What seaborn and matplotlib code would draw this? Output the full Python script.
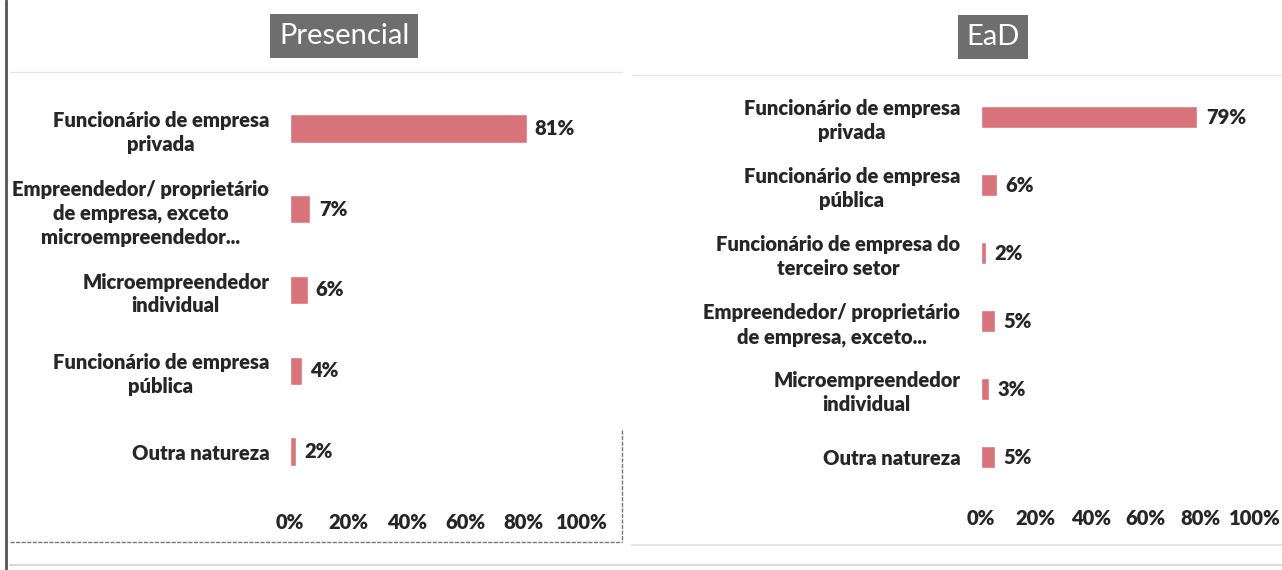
import matplotlib
matplotlib.use("Agg")
import matplotlib.pyplot as plt
import seaborn as sns
from matplotlib.lines import Line2D
from matplotlib.ticker import PercentFormatter

# dados
cat_presencial = [
    "Funcionário de empresa\nprivada",
    "Empreendedor/ proprietário\nde empresa, exceto\nmicroempreendedor...",
    "Microempreendedor\nindividual",
    "Funcionário de empresa\npública",
    "Outra natureza",
]
val_presencial = [0.81, 0.07, 0.06, 0.04, 0.02]

cat_ead = [
    "Funcionário de empresa\nprivada",
    "Funcionário de empresa\npública",
    "Funcionário de empresa do\nterceiro setor",
    "Empreendedor/ proprietário\nde empresa, exceto...",
    "Microempreendedor\nindividual",
    "Outra natureza",
]
val_ead = [0.79, 0.06, 0.02, 0.05, 0.03, 0.05]

titulos = ["Presencial", "EaD"]

sns.set_style("white")
plt.rcParams["font.family"] = ["Lato", "DejaVu Sans"]

cor_barra = "#D9737B"
cor_texto = "#262626"

W, H = 1282, 570
fig = plt.figure(figsize=(W / 100, H / 100), dpi=100)
fig.patch.set_facecolor("white")

def px_ax(x0, x1, y0, y1):
    return fig.add_axes([x0 / W, 1 - y1 / H, (x1 - x0) / W, (y1 - y0) / H])

ax1 = px_ax(290, 582, 88, 492)
ax2 = px_ax(981, 1255, 83, 491)

paineis = [(ax1, cat_presencial, val_presencial, 0.35, 15),
           (ax2, cat_ead, val_ead, 0.33, 13)]

for ax, cats, vals, larg, padx in paineis:
    sns.barplot(x=vals, y=cats, orient="h", color=cor_barra, width=larg,
                saturation=1, ax=ax)
    ax.set_xlim(0, 1)
    ax.set_xticks([0, 0.2, 0.4, 0.6, 0.8, 1.0])
    ax.xaxis.set_major_formatter(PercentFormatter(1.0, decimals=0))
    ax.set_xlabel("")
    ax.set_ylabel("")
    for s in ax.spines.values():
        s.set_visible(False)
    ax.tick_params(axis="both", length=0, labelsize=14.5, colors=cor_texto)
    ax.tick_params(axis="y", pad=15)
    ax.tick_params(axis="x", pad=padx)
    for lab in ax.get_yticklabels():
        lab.set_fontweight("heavy")
        lab.set_multialignment("center")
        lab.set_linespacing(1.3)
    for lab in ax.get_xticklabels():
        lab.set_fontweight("heavy")
    for i, v in enumerate(vals):
        ax.annotate(f"{v:.0%}", (v, i), xytext=(6, 0), textcoords="offset points",
                    va="center", ha="left", fontsize=14.5, fontweight="heavy",
                    color=cor_texto)
    ax.set_facecolor("white")

# títulos em caixa cinza
fig.text(344 / W, 1 - 36 / H, titulos[0], ha="center", va="center", fontsize=21,
         color="white",
         bbox=dict(boxstyle="square,pad=0.3", fc="#6e6e6e", ec="none"))
fig.text(993 / W, 1 - 37 / H, titulos[1], ha="center", va="center", fontsize=21,
         color="white",
         bbox=dict(boxstyle="square,pad=0.3", fc="#6e6e6e", ec="none"))

# molduras
def linha(x0, y0, x1, y1, **kw):
    fig.add_artist(Line2D([x0 / W, x1 / W], [1 - y0 / H, 1 - y1 / H],
                          transform=fig.transFigure, **kw))

linha(6, 0, 6, 570, color="#555555", lw=2)
linha(10, 72, 622, 72, color="#e6e6e6", lw=1)
linha(10, 542, 622, 542, color="#777777", lw=1, ls=(0, (3, 1)))
linha(622, 430, 622, 542, color="#777777", lw=1, ls=(0, (3, 1)))
linha(632, 75, 1282, 75, color="#e6e6e6", lw=1)
linha(632, 545, 1282, 545, color="#e6e6e6", lw=1.5)
linha(10, 565, 1282, 565, color="#d9d9d9", lw=1.5)

fig.savefig("out.png", dpi=100, facecolor="white")
